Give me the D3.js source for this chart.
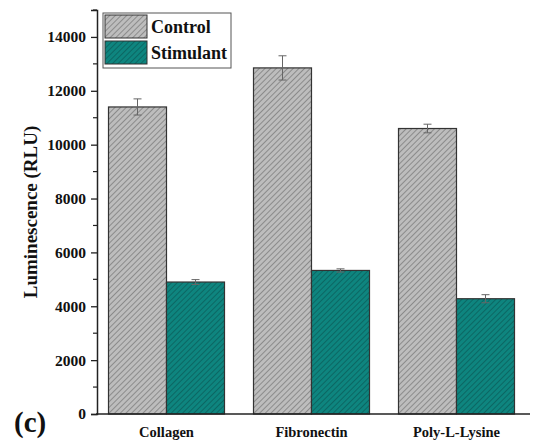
<!DOCTYPE html>
<html>
<head>
<script src="https://d3js.org/d3.v7.min.js"></script>
<style>
  body { margin: 0; background: #fff; }
</style>
</head>
<body>
<div id="chart"></div>
<script>
const categories = ["Collagen", "Fibronectin", "Poly-L-Lysine"];
const seriesNames = ["Control", "Stimulant"];
const controlVals = [11400, 12850, 10600];
const controlErr = [300, 450, 160];
const stimVals = [4900, 5330, 4280];
const stimErr = [90, 60, 150];
const yTicks = [0, 2000, 4000, 6000, 8000, 10000, 12000, 14000];

const FONT = "'Liberation Serif', 'DejaVu Serif', serif";
const W = 540, H = 440;
const svg = d3.select("#chart").append("svg").attr("width", W).attr("height", H);

const defs = svg.append("defs");
function hatch(id, bg, line) {
  const p = defs.append("pattern").attr("id", id)
    .attr("patternUnits", "userSpaceOnUse").attr("width", 4).attr("height", 4)
    .attr("patternTransform", "rotate(45)");
  p.append("rect").attr("width", 4).attr("height", 4).attr("fill", bg);
  p.append("line").attr("x1", 0).attr("y1", 0).attr("x2", 0).attr("y2", 4)
    .attr("stroke", line).attr("stroke-width", 1.2);
}
hatch("hGray", "#bdbdbd", "#6a6a6a");
hatch("hTeal", "#0e857f", "#0a5350");
const fills = ["url(#hGray)", "url(#hTeal)"];

const y = d3.scaleLinear().domain([0, 15000]).range([414, 10]);
const x0 = d3.scaleBand().domain(categories).range([94, 529]).paddingInner(0.2).paddingOuter(0.1);
const x1 = d3.scaleBand().domain(seriesNames).range([0, x0.bandwidth()]);

const rows = categories.map((c, i) => ({
  cat: c,
  vals: [
    { s: "Control", v: controlVals[i], e: controlErr[i] },
    { s: "Stimulant", v: stimVals[i], e: stimErr[i] }
  ]
}));

const g = svg.selectAll(".grp").data(rows).enter().append("g")
  .attr("transform", d => `translate(${x0(d.cat)},0)`);

g.selectAll("rect").data(d => d.vals).enter().append("rect")
  .attr("x", d => x1(d.s))
  .attr("y", d => y(d.v))
  .attr("width", x1.bandwidth())
  .attr("height", d => y(0) - y(d.v))
  .attr("fill", (d, i) => fills[i])
  .attr("stroke", "#333").attr("stroke-width", 1.2);

// error bars
const eb = g.selectAll(".eb").data(d => d.vals).enter().append("g")
  .attr("stroke", "#666").attr("stroke-width", 1);
const cx = d => x1(d.s) + x1.bandwidth() / 2;
eb.append("line").attr("x1", cx).attr("x2", cx)
  .attr("y1", d => y(d.v + d.e)).attr("y2", d => y(d.v - d.e));
eb.append("line").attr("x1", d => cx(d) - 4).attr("x2", d => cx(d) + 4)
  .attr("y1", d => y(d.v + d.e)).attr("y2", d => y(d.v + d.e));
eb.append("line").attr("x1", d => cx(d) - 4).attr("x2", d => cx(d) + 4)
  .attr("y1", d => y(d.v - d.e)).attr("y2", d => y(d.v - d.e));

// y axis
const yAxis = svg.append("g").attr("transform", "translate(97,0)")
  .call(d3.axisLeft(y).tickValues(yTicks).tickSize(6).tickPadding(5).tickFormat(d3.format("d")));
yAxis.attr("font-family", null);
yAxis.select(".domain").attr("stroke", "#222").attr("stroke-width", 1.5);
yAxis.selectAll(".tick line").attr("stroke", "#222").attr("stroke-width", 1.3);
yAxis.selectAll("text").style("font-size", "15.5px");
yAxis.selectAll(".minor").data(d3.range(1000, 15001, 2000)).enter().append("line")
  .attr("x1", 0).attr("x2", -4).attr("y1", d => y(d)).attr("y2", d => y(d))
  .attr("stroke", "#222").attr("stroke-width", 1.2);

// x axis line
svg.append("line").attr("x1", 96).attr("x2", 530).attr("y1", y(0)).attr("y2", y(0))
  .attr("stroke", "#222").attr("stroke-width", 1.5);
svg.selectAll(".xl").data(categories).enter().append("text")
  .attr("x", d => x0(d) + x0.bandwidth() / 2).attr("y", 437)
  .attr("text-anchor", "middle").style("font-size", "14.5px").text(d => d);

// y label
svg.append("text").attr("transform", "translate(37,212) rotate(-90)")
  .attr("text-anchor", "middle").style("font-size", "19px").text("Luminescence (RLU)");

// panel label
svg.append("text").attr("x", 14).attr("y", 432).style("font-size", "29px").text("(c)");

// legend
const lg = svg.append("g");
lg.append("rect").attr("x", 103).attr("y", 13).attr("width", 128).attr("height", 55)
  .attr("fill", "#fff").attr("stroke", "#555").attr("stroke-width", 1);
seriesNames.forEach((s, i) => {
  lg.append("rect").attr("x", 105).attr("y", 15 + i * 26).attr("width", 42).attr("height", 23)
    .attr("fill", fills[i]).attr("stroke", "#333").attr("stroke-width", 1);
  lg.append("text").attr("x", 151).attr("y", 33 + i * 26).style("font-size", "18px").text(s);
});

svg.selectAll("text")
  .style("font-family", FONT).style("font-weight", "bold").attr("fill", "#111");
</script>
</body>
</html>
